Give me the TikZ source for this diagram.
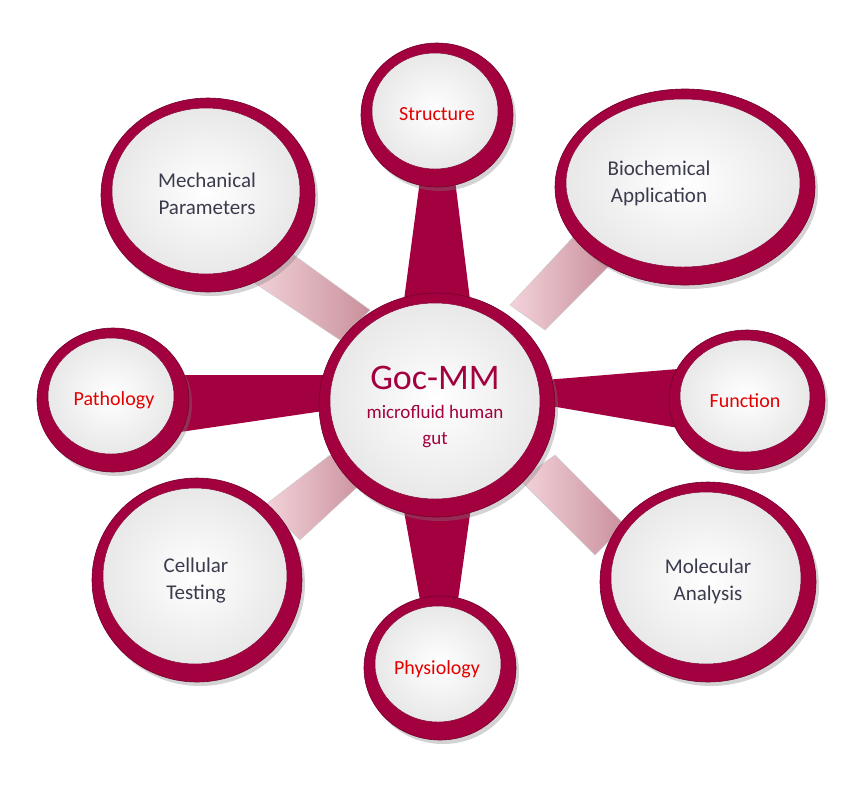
\documentclass[tikz,border=0pt]{standalone}
\usepackage{fontspec}
\setmainfont{Carlito}
\usetikzlibrary{shadows,shapes.geometric}
\definecolor{crim}{HTML}{A3003F}
\definecolor{txt}{HTML}{3B3B4E}
\definecolor{pinkA}{HTML}{F3D3DA}
\definecolor{pinkB}{HTML}{C9909C}
\tikzset{
  bub/.style={ellipse, fill=crim, draw=crim!70!black, line width=0.6pt, drop shadow={shadow xshift=3pt,shadow yshift=-4pt,opacity=0.35}},
  inner/.style={ellipse, inner color=white, outer color=gray!18, draw=crim!80!black, line width=0.5pt},
  lab/.style={text=txt, font=\fontsize{21}{27}\selectfont, align=center},
  red/.style={text=red!90!black, font=\fontsize{20}{24}\selectfont, align=center},
  bar/.style={fill=crim},
  pbar/.style={left color=pinkA, right color=pinkB, draw=gray!40}
}
\begin{document}
\begin{tikzpicture}[x=1pt,y=-1pt]
\useasboundingbox (0,0) rectangle (860,807);
% connectors
\fill[bar] (420,180) -- (455,180) -- (470,300) -- (404,300) -- cycle;
\fill[bar] (420,600) -- (458,600) -- (472,500) -- (402,500) -- cycle;
\fill[bar] (180,375) -- (180,432) -- (330,410) -- (330,375) -- cycle;
\fill[bar] (690,368) -- (690,430) -- (545,405) -- (545,380) -- cycle;
\shade[pbar] (250,280) -- (280,245) -- (370,310) -- (340,340) -- cycle;
\shade[pbar] (510,305) -- (545,330) -- (610,265) -- (575,235) -- cycle;
\shade[pbar] (265,505) -- (300,540) -- (365,480) -- (330,455) -- cycle;
\shade[pbar] (520,480) -- (555,455) -- (625,525) -- (595,555) -- cycle;
% bubbles
\newcommand{\bubble}[5]{%
  \node[bub, minimum width=#3*2pt, minimum height=#4*2pt] (#5o) at (#1,#2) {};
  \node[inner, minimum width=#3*2pt-26pt, minimum height=#4*2pt-28pt] (#5i) at (#1-2,#2-4) {};
}
\bubble{437}{115}{76}{72}{s}
\bubble{685}{187}{130}{98}{b}
\bubble{208}{195}{107}{97}{m}
\bubble{113}{400}{76}{72}{p}
\bubble{747}{400}{78}{70}{f}
\bubble{197}{580}{105}{102}{c}
\bubble{708}{582}{108}{100}{ma}
\bubble{440}{668}{76}{72}{ph}
\bubble{437}{405}{118}{112}{g}
% labels
\node[red] (s) at (437,114) {Structure};
\node[lab] (b) at (659,183) {Biochemical\\Application};
\node[lab] (m) at (207,194) {Mechanical\\Parameters};
\node[red] (p) at (114,400) {Pathology};
\node[red] (f) at (745,401) {Function};
\node[lab] (c) at (196,581) {Cellular\\Testing};
\node[lab] (ma) at (708,581) {Molecular\\Analysis};
\node[red] (ph) at (437,669) {Physiology};
\node[text=crim, font=\fontsize{36}{40}\selectfont] (g) at (435,378) {Goc-MM};
\node[text=crim, font=\fontsize{19}{26}\selectfont, align=center] (g2) at (435,427) {microfluid human\\gut};
\end{tikzpicture}
\end{document}
